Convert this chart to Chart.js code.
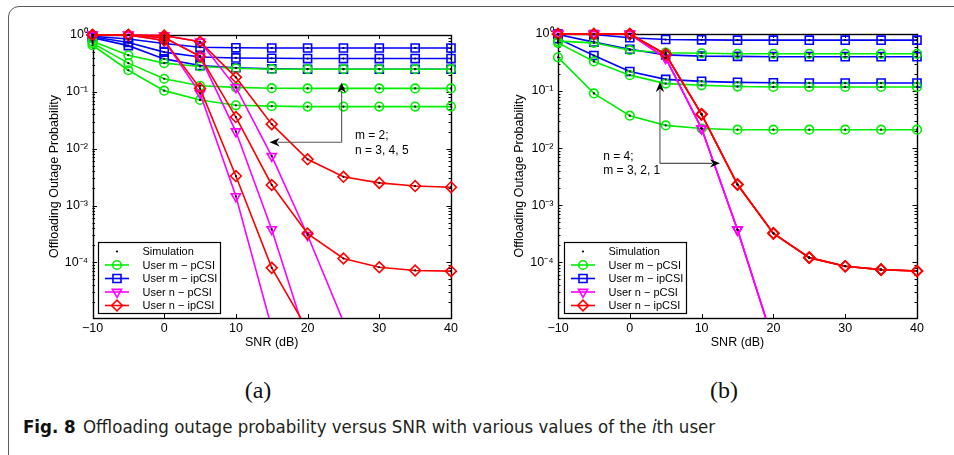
<!DOCTYPE html>
<html>
<head>
<meta charset="utf-8">
<script src="https://cdn.jsdelivr.net/npm/chart.js@4.4.1/dist/chart.umd.min.js"></script>
<style>
html,body{margin:0;padding:0;background:#fff;}
body{width:954px;height:455px;overflow:hidden;position:relative;}
#frame{position:absolute;left:8px;top:6px;width:1000px;height:520px;border:1.4px solid #5c5c5c;border-radius:11px;box-sizing:border-box;}
canvas{position:absolute;top:0;}
#ca{left:0;}
#cb{left:477px;}
.sub{position:absolute;top:377.5px;font-family:"Liberation Serif","DejaVu Serif",serif;font-size:24px;line-height:24px;color:#111;width:60px;text-align:center;}
#cap{position:absolute;left:23px;top:417.5px;font-family:"DejaVu Sans Condensed","Liberation Sans Narrow",sans-serif;font-size:18.5px;line-height:18.5px;color:#231f20;white-space:nowrap;}
#cap b{display:inline-block;width:60px;color:#111;}
</style>
</head>
<body>
<div id="frame"></div>
<canvas id="ca" width="477" height="362"></canvas>
<canvas id="cb" width="477" height="362"></canvas>
<div class="sub" style="left:228px;">(a)</div>
<div class="sub" style="left:694px;">(b)</div>
<div id="cap"><b>Fig. 8</b>Offloading outage probability versus SNR with various values of the <i>i</i>th user</div>
<script>
// ---------- data ----------
const snr = [-10, -5, 0, 5, 10, 15, 20, 25, 30, 35, 40];
const xTicks = [-10, 0, 10, 20, 30, 40];
const xTickLabels = ['\u221210', '0', '10', '20', '30', '40'];
const yTickValues = [1, 0.1, 0.01, 0.001, 0.0001];
const yTickLabels = ['10\u2070', '10\u207B\u00B9', '10\u207B\u00B2', '10\u207B\u00B3', '10\u207B\u2074'];
const legendLabels = ['Simulation', 'User m \u2212 pCSI', 'User m \u2212 ipCSI', 'User n \u2212 pCSI', 'User n \u2212 ipCSI'];

// (a) m = 2; n = 3, 4, 5
const aMp1 = [0.78, 0.44, 0.32, 0.28, 0.26, 0.25, 0.25, 0.25, 0.25, 0.25, 0.25];
const aMp2 = [0.72, 0.32, 0.17, 0.128, 0.12, 0.116, 0.115, 0.115, 0.115, 0.115, 0.115];
const aMp3 = [0.66, 0.24, 0.105, 0.072, 0.058, 0.056, 0.055, 0.055, 0.055, 0.055, 0.055];
const aMi1 = [0.95, 0.85, 0.71, 0.61, 0.595, 0.59, 0.59, 0.59, 0.59, 0.59, 0.59];
const aMi2 = [0.93, 0.74, 0.50, 0.41, 0.395, 0.39, 0.385, 0.385, 0.385, 0.385, 0.385];
const aMi3 = [0.90, 0.65, 0.38, 0.29, 0.265, 0.255, 0.25, 0.25, 0.25, 0.25, 0.25];
const aNp1 = [1.0, 1.0, 0.98, 0.76, 0.12, 0.0074, 3.0e-4, 9e-6, null, null, null];
const aNp2 = [1.0, 1.0, 0.9, 0.42, 0.020, 3.8e-4, 4e-6, null, null, null, null];
const aNp3 = [1.0, 1.0, 0.8, 0.094, 1.45e-3, 7e-6, null, null, null, null, null];
const aNi1 = [1.0, 1.0, 0.98, 0.76, 0.18, 0.027, 0.0065, 0.0032, 0.0025, 0.0022, 0.0021];
const aNi2 = [1.0, 1.0, 0.9, 0.42, 0.036, 0.0023, 3.2e-4, 1.17e-4, 8.2e-5, 7.2e-5, 7.0e-5];
const aNi3 = [1.0, 1.0, 0.8, 0.115, 0.0033, 8e-5, 6.5e-6, null, null, null, null];

// (b) n = 4; m = 3, 2, 1
const bMp1 = [0.75, 0.70, 0.52, 0.47, 0.46, 0.45, 0.45, 0.45, 0.45, 0.45, 0.45];
const bMp2 = [0.70, 0.33, 0.19, 0.135, 0.126, 0.12, 0.118, 0.118, 0.118, 0.118, 0.118];
const bMp3 = [0.39, 0.091, 0.037, 0.025, 0.022, 0.021, 0.021, 0.021, 0.021, 0.021, 0.021];
const bMi1 = [1.0, 0.98, 0.86, 0.80, 0.79, 0.78, 0.78, 0.78, 0.78, 0.78, 0.78];
const bMi2 = [0.98, 0.72, 0.54, 0.43, 0.41, 0.405, 0.40, 0.40, 0.40, 0.40, 0.40];
const bMi3 = [0.83, 0.42, 0.22, 0.16, 0.148, 0.142, 0.14, 0.138, 0.138, 0.138, 0.138];
const bNp = [1.0, 1.0, 1.0, 0.38, 0.022, 3.7e-4, 4e-6, null, null, null, null];
const bNi = [1.0, 1.0, 1.0, 0.44, 0.039, 0.0023, 3.2e-4, 1.2e-4, 8.5e-5, 7.4e-5, 7.0e-5];

// ---------- styles ----------
const FONT = '"Liberation Sans", Arial, Helvetica, sans-serif';
const STY = {
  mp: {color: '#00ee00', pointStyle: 'circle', radius: 4.3, rotation: 0},
  mi: {color: '#0000ff', pointStyle: 'rect', radius: 5.7, rotation: 0},
  np: {color: '#ff00ff', pointStyle: 'triangle', radius: 5.3, rotation: 180},
  ni: {color: '#ff0000', pointStyle: 'rectRot', radius: 5.4, rotation: 0}
};
const LW = 1.6;
const legendKeys = ['sim', 'mp', 'mi', 'np', 'ni'];

function pts(arr) { return snr.map((x, i) => ({x: x, y: arr[i]})); }
const CLIP = {left: 8, top: 8, right: 8, bottom: 0};

function curve(arr, key) {
  const s = STY[key];
  return {
    data: pts(arr), borderColor: s.color, borderWidth: LW, backgroundColor: 'rgba(0,0,0,0)',
    pointStyle: s.pointStyle, pointRadius: s.radius, pointRotation: s.rotation,
    pointBorderColor: s.color, pointBackgroundColor: 'rgba(0,0,0,0)', pointBorderWidth: LW,
    pointHoverRadius: s.radius, tension: 0, clip: CLIP, spanGaps: false
  };
}
function sim(arr) {
  return {
    data: pts(arr), showLine: false, pointStyle: 'circle', pointRadius: 1.1,
    pointBackgroundColor: '#000', pointBorderColor: '#000', pointBorderWidth: 0, clip: CLIP
  };
}
function buildSets(groups) {
  const all = [];
  groups.forEach(g => g[0].forEach(a => all.push(a)));
  const sims = all.map(sim);
  const lines = [];
  for (let i = groups.length - 1; i >= 0; i--) groups[i][0].forEach(a => lines.push(curve(a, groups[i][1])));
  return sims.concat(lines); // first dataset is drawn on top
}

// ---------- annotation anchors (data units) ----------
const annA = {corner: [24.75, 0.013], upTo: 0.145, sideTo: 14.7,
  text: [['m = 2;', 26.6, 0.0166], ['n = 3, 4, 5', 26.6, 0.0094]]};
const annB = {corner: [4.2, 0.0054], upTo: 0.144, sideTo: 12.56,
  text: [['n = 4;', -3.7, 0.0072], ['m = 3, 2, 1', -3.7, 0.0040]]};

function arrowHead(ctx, x0, y0, x1, y1) {
  const dx = x1 - x0, dy = y1 - y0, L = Math.hypot(dx, dy);
  const ux = dx / L, uy = dy / L, px = -uy, py = ux;
  const len = 10, hw = 4.2, notch = 3;
  ctx.beginPath();
  ctx.moveTo(x1, y1);
  ctx.lineTo(x1 - ux * len + px * hw, y1 - uy * len + py * hw);
  ctx.lineTo(x1 - ux * (len - notch), y1 - uy * (len - notch));
  ctx.lineTo(x1 - ux * len - px * hw, y1 - uy * len - py * hw);
  ctx.closePath();
  ctx.fill();
}

const matlabPlugin = {
  id: 'matlab',
  beforeDatasetsDraw(chart) {
    const {ctx, chartArea: a, scales: {x, y}} = chart;
    ctx.save();
    ctx.strokeStyle = '#000';
    ctx.lineWidth = 1;
    ctx.beginPath();
    xTicks.forEach(v => {
      const px = Math.round(x.getPixelForValue(v)) + 0.5;
      ctx.moveTo(px, a.bottom); ctx.lineTo(px, a.bottom - 4);
      ctx.moveTo(px, a.top); ctx.lineTo(px, a.top + 4);
    });
    for (let e = -6; e <= 0; e++) {
      for (let k = 1; k <= 9; k++) {
        const v = k * Math.pow(10, e);
        if (v < y.min || v > y.max) continue;
        const py = Math.round(y.getPixelForValue(v)) + 0.5;
        const L = k === 1 ? 4.5 : 2.5;
        ctx.moveTo(a.left, py); ctx.lineTo(a.left + L, py);
        ctx.moveTo(a.right, py); ctx.lineTo(a.right - L, py);
      }
    }
    ctx.stroke();
    ctx.lineWidth = 1.4;
    ctx.strokeRect(Math.round(a.left) + 0.5, Math.round(a.top) + 0.5,
      Math.round(a.right) - Math.round(a.left), Math.round(a.bottom) - Math.round(a.top));
    ctx.restore();
  },
  afterDraw(chart, args, opts) {
    const {ctx, chartArea: a, scales: {x, y}} = chart;
    const ann = opts.ann;
    ctx.save();
    // annotation arrows
    const cx = x.getPixelForValue(ann.corner[0]), cy = y.getPixelForValue(ann.corner[1]);
    const uy = y.getPixelForValue(ann.upTo), sx = x.getPixelForValue(ann.sideTo);
    ctx.strokeStyle = '#555'; ctx.lineWidth = 1.1;
    ctx.beginPath();
    ctx.moveTo(cx, cy); ctx.lineTo(cx, uy + 8);
    ctx.moveTo(cx, cy); ctx.lineTo(sx + (sx < cx ? 8 : -8), cy);
    ctx.stroke();
    ctx.fillStyle = '#000';
    arrowHead(ctx, cx, cy, cx, uy);
    arrowHead(ctx, cx, cy, sx, cy);
    ctx.font = '12px ' + FONT;
    ctx.textBaseline = 'middle'; ctx.textAlign = 'left';
    ann.text.forEach(t => ctx.fillText(t[0], x.getPixelForValue(t[1]), y.getPixelForValue(t[2])));

    // legend box
    const lw = 122, lh = 71;
    const lx = Math.round(a.left + 5.5), ly = Math.round(a.bottom - 5.5 - lh);
    ctx.fillStyle = '#fff';
    ctx.fillRect(lx, ly, lw, lh);
    ctx.strokeStyle = '#000'; ctx.lineWidth = 1.2;
    ctx.strokeRect(lx + 0.5, ly + 0.5, lw, lh);
    legendLabels.forEach((lab, i) => {
      const ry = ly + 9.5 + i * 13.5;
      const key = legendKeys[i];
      if (key === 'sim') {
        ctx.fillStyle = '#000';
        ctx.beginPath(); ctx.arc(lx + 19, ry, 1.1, 0, Math.PI * 2); ctx.fill();
      } else {
        const s = STY[key];
        ctx.strokeStyle = s.color; ctx.lineWidth = LW;
        ctx.beginPath(); ctx.moveTo(lx + 7, ry); ctx.lineTo(lx + 31, ry); ctx.stroke();
        ctx.fillStyle = 'rgba(0,0,0,0)';
        Chart.helpers.drawPoint(ctx, {pointStyle: s.pointStyle, radius: s.radius, rotation: s.rotation, borderWidth: LW}, lx + 19, ry);
      }
      ctx.fillStyle = '#000';
      ctx.font = '11px ' + FONT;
      ctx.textAlign = 'left'; ctx.textBaseline = 'middle';
      ctx.fillText(lab, lx + 44.5, ry + 0.5);
    });
    ctx.restore();
  }
};

function makeChart(id, area, datasets, ann, titlePad) {
  const cv = document.getElementById(id);
  const W = cv.width, H = cv.height;
  const font = {family: FONT, size: 12.5};
  return new Chart(cv, {
    type: 'line',
    data: {datasets: datasets},
    options: {
      responsive: false, animation: false, devicePixelRatio: 1,
      events: [],
      layout: {padding: {left: 0, top: area.top, right: W - area.right, bottom: 0}},
      plugins: {legend: {display: false}, tooltip: {enabled: false}, matlab: {ann: ann}},
      scales: {
        x: {
          type: 'linear', min: -10, max: 40,
          afterBuildTicks: s => { s.ticks = xTicks.map(v => ({value: v})); },
          afterFit: s => { s.height = H - area.bottom; },
          ticks: {padding: 3, color: '#000', font: font, maxRotation: 0, autoSkip: false,
            callback: v => xTickLabels[xTicks.indexOf(v)]},
          grid: {display: false, drawTicks: false},
          border: {display: false},
          title: {display: true, text: 'SNR (dB)', color: '#000', font: font, padding: {top: 0, bottom: 11.5}}
        },
        y: {
          type: 'logarithmic', min: 1.05e-5, max: 1,
          afterBuildTicks: s => { s.ticks = yTickValues.map(v => ({value: v})); },
          afterFit: s => { s.width = area.left; },
          ticks: {padding: 4.5, color: '#000', font: font, autoSkip: false,
            callback: v => yTickLabels[yTickValues.indexOf(v)]},
          grid: {display: false, drawTicks: false},
          border: {display: false},
          title: {display: true, text: 'Offloading Outage Probability', color: '#000', font: font, padding: {top: titlePad, bottom: 0}}
        }
      }
    },
    plugins: [matlabPlugin]
  });
}

const setsA = buildSets([
  [[aMi1, aMi2, aMi3], 'mi'],
  [[aMp1, aMp2, aMp3], 'mp'],
  [[aNp1, aNp2, aNp3], 'np'],
  [[aNi1, aNi2, aNi3], 'ni']
]);
const setsB = buildSets([
  [[bMi1, bMi2, bMi3], 'mi'],
  [[bMp1, bMp2, bMp3], 'mp'],
  [[bNp, bNp, bNp], 'np'],
  [[bNi, bNi, bNi], 'ni']
]);

makeChart('ca', {left: 92.5, right: 451, top: 35, bottom: 318}, setsA, annA, 47.5);
makeChart('cb', {left: 81, right: 440, top: 34, bottom: 318}, setsB, annB, 35.5);
</script>
</body>
</html>
